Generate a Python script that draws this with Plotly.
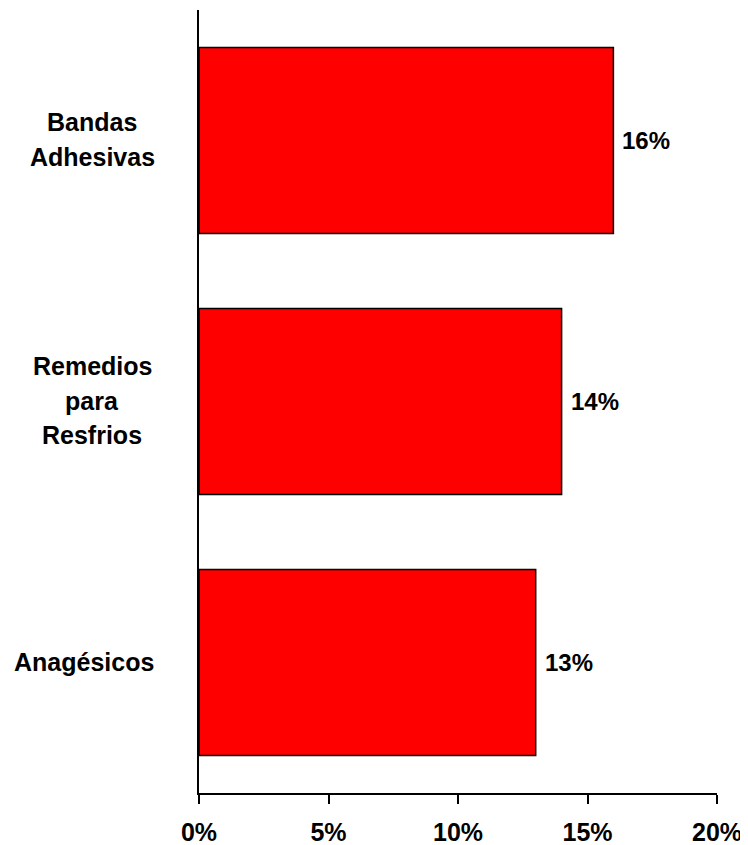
import plotly.graph_objects as go

categories = ["Bandas Adhesivas", "Remedios para Resfrios", "Anagésicos"]
category_lines = [["Bandas", "Adhesivas"], ["Remedios", "para", "Resfrios"], ["Anagésicos"]]
values = [0.16, 0.14, 0.13]
value_labels = ["16%", "14%", "13%"]
x_tick_vals = [0, 0.05, 0.10, 0.15, 0.20]
x_tick_text = ["0%", "5%", "10%", "15%", "20%"]

# horizontal centre of each label block, in px relative to the y axis line
label_centers = [-107, -107, -115]

FONT = "Liberation Sans, Arial, sans-serif"
LINE_H = 34.5

fig = go.Figure()
fig.add_trace(go.Bar(
    y=categories, x=values, orientation="h",
    marker=dict(color="#FF0000", line=dict(color="#000000", width=1.5)),
    width=0.713, hoverinfo="skip",
))

annotations = []
for c, lines, v, t, cx in zip(categories, category_lines, values, value_labels, label_centers):
    annotations.append(dict(
        x=v, y=c, xref="x", yref="y", text=f"<b>{t}</b>", showarrow=False,
        xanchor="left", yanchor="middle", xshift=7,
        font=dict(family=FONT, size=24, color="#000000"),
    ))
    n = len(lines)
    for i, ln in enumerate(lines):
        annotations.append(dict(
            x=0, y=c, xref="paper", yref="y", text=f"<b>{ln}</b>", showarrow=False,
            xanchor="center", yanchor="middle", xshift=cx,
            yshift=-(i - (n - 1) / 2) * LINE_H + 1,
            font=dict(family=FONT, size=25, color="#000000"),
        ))

fig.update_layout(
    width=740, height=837,
    margin=dict(l=191, r=31, t=2, b=52, autoexpand=False),
    paper_bgcolor="white", plot_bgcolor="white",
    showlegend=False,
    annotations=annotations,
    xaxis=dict(
        range=[0, 0.2], tickvals=x_tick_vals, ticktext=x_tick_text,
        showgrid=False, zeroline=False, showline=True, linecolor="#000000", linewidth=2,
        ticks="outside", ticklen=9, tickwidth=2, tickcolor="#000000",
        tickfont=dict(family=FONT, size=25, color="#000000", weight="bold"),
        ticklabelstandoff=7, automargin=False,
        fixedrange=True,
    ),
    yaxis=dict(
        categoryorder="array", categoryarray=categories, autorange="reversed",
        range=[2.5, -0.5], automargin=False,
        showgrid=False, zeroline=False, showline=True, linecolor="#000000", linewidth=2,
        showticklabels=False, ticks="",
        fixedrange=True,
    ),
)

fig.write_html("out.html")
